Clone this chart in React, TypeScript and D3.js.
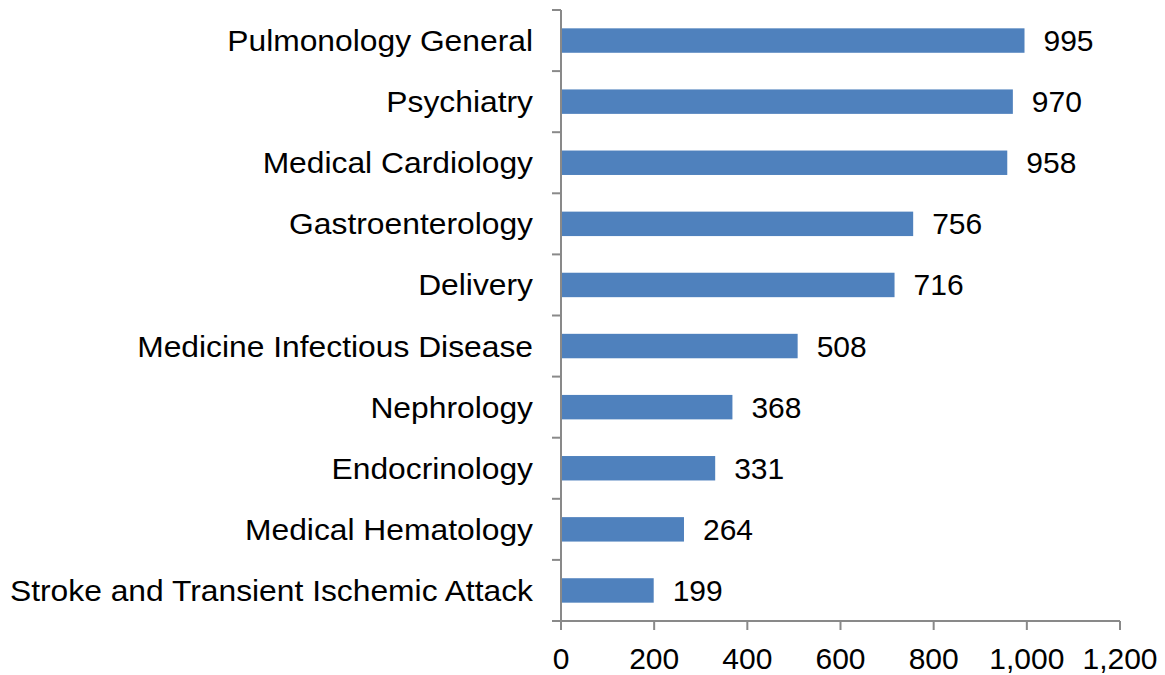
import React from "react";
import * as d3 from "d3";

const categories = [
  "Pulmonology General",
  "Psychiatry",
  "Medical Cardiology",
  "Gastroenterology",
  "Delivery",
  "Medicine Infectious Disease",
  "Nephrology",
  "Endocrinology",
  "Medical Hematology",
  "Stroke and Transient Ischemic Attack",
];
const values = [995, 970, 958, 756, 716, 508, 368, 331, 264, 199];
const xTicks = [0, 200, 400, 600, 800, 1000, 1200];

const W = 1165;
const H = 675;
const FONT = "'Liberation Sans', Arial, sans-serif";
const FS = 30;
const AXIS = "#898989";

export default function App() {
  const x = d3.scaleLinear().domain([0, 1200]).range([561, 1120]);
  const y = d3.scaleBand().domain(categories).range([10, 621]).paddingInner(0.6).paddingOuter(0.3);
  const band = d3.scaleBand().domain(categories).range([10, 621]);
  const fmt = d3.format(",");
  const bounds = [...categories.map((c) => band(c)!), 621];

  return (
    <svg width={W} height={H} style={{ position: "absolute", left: 0, top: 0, background: "#fff" }} fontFamily={FONT}>
      {categories.map((c, i) => (
        <g key={c}>
          <rect x={x(0)} y={y(c)!} width={x(values[i]) - x(0)} height={y.bandwidth()} fill="#4F81BD" />
          <text
            transform={`translate(533,${band(c)! + band.bandwidth() / 2}) scale(1.06,1)`}
            dy="0.35em"
            textAnchor="end"
            fontSize={FS}
            fill="#000"
          >
            {c}
          </text>
          <text x={x(values[i]) + 19} y={band(c)! + band.bandwidth() / 2} dy="0.35em" fontSize={FS} fill="#000">
            {fmt(values[i])}
          </text>
        </g>
      ))}
      <line x1={561} x2={561} y1={10} y2={621} stroke={AXIS} strokeWidth={2} />
      {bounds.map((b, i) => (
        <line key={i} x1={552} x2={561} y1={b} y2={b} stroke={AXIS} strokeWidth={2} />
      ))}
      <line x1={561} x2={1120} y1={621} y2={621} stroke={AXIS} strokeWidth={2} />
      {xTicks.map((t) => (
        <g key={t}>
          <line x1={x(t)} x2={x(t)} y1={621} y2={630} stroke={AXIS} strokeWidth={2} />
          <text x={x(t)} y={669} textAnchor="middle" fontSize={FS} fill="#000">
            {fmt(t)}
          </text>
        </g>
      ))}
    </svg>
  );
}
